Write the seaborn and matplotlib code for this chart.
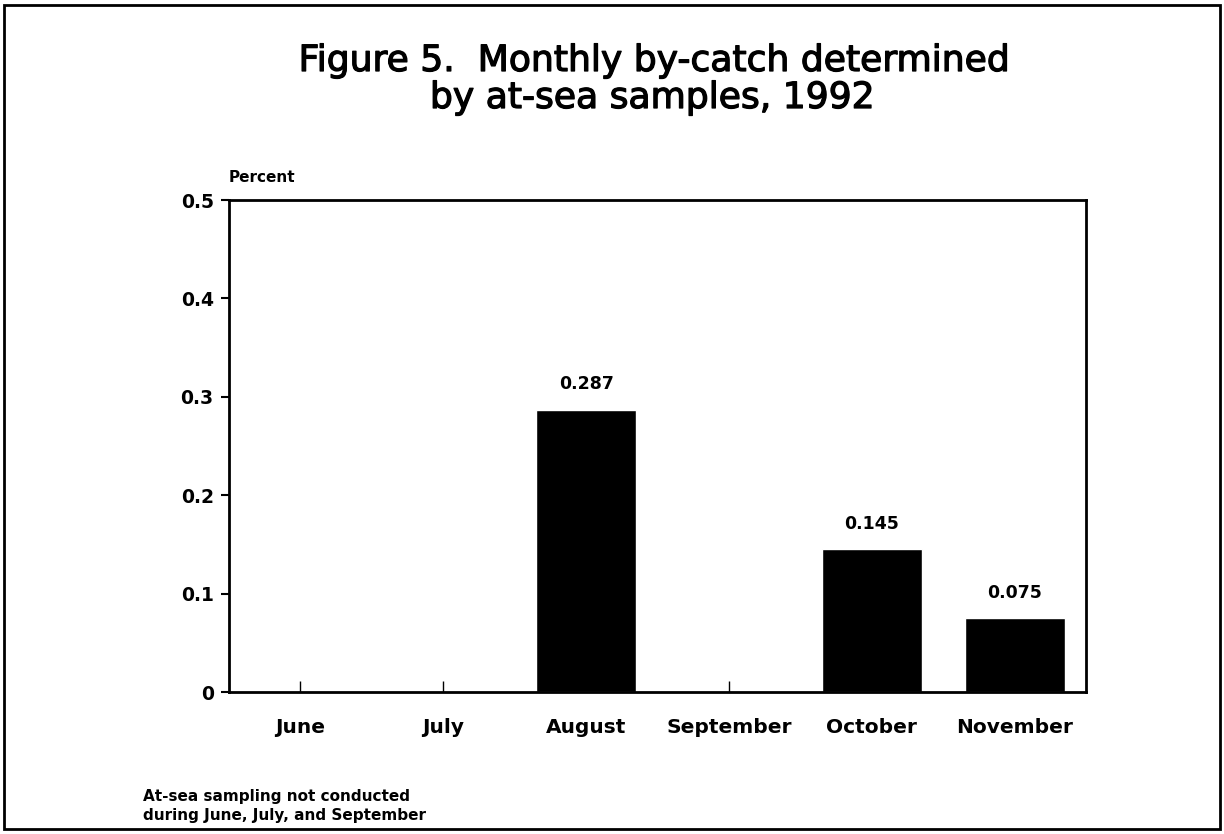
import matplotlib
matplotlib.use('Agg')
import matplotlib.pyplot as plt
import matplotlib.patheffects as pe
import seaborn as sns
import pandas as pd
from matplotlib.patches import Rectangle

sns.set_style("white")
plt.rcParams['font.family'] = ['DejaVu Sans']
plt.rcParams['text.color'] = 'black'
plt.rcParams['xtick.color'] = 'black'
plt.rcParams['ytick.color'] = 'black'

# data
months = ["June", "July", "August", "September", "October", "November"]
sampled_months = ["August", "October", "November"]
bycatch_pct = [0.287, 0.145, 0.075]
title_lines = ["Figure 5.  Monthly by-catch determined", "by at-sea samples, 1992"]

df = pd.DataFrame({"Month": sampled_months, "Percent": bycatch_pct})

fig = plt.figure(figsize=(12.24, 8.34), dpi=100)
ax = fig.add_axes([229 / 1224, 1 - 692 / 834, 857 / 1224, 492 / 834])

sns.barplot(data=df, x="Month", y="Percent", order=months, color="black",
            saturation=1, width=0.7, ax=ax)

for c in ax.containers:
    ax.bar_label(c, labels=[f"{v:.3f}" for v in bycatch_pct], padding=12,
                 fontsize=12.5, fontweight='bold')

ax.set_ylim(0, 0.5)
ax.set_yticks([0, 0.1, 0.2, 0.3, 0.4, 0.5])
ax.set_yticklabels(["0", "0.1", "0.2", "0.3", "0.4", "0.5"])
ax.set_xlabel("")
ax.set_ylabel("")
for s in ax.spines.values():
    s.set_linewidth(2)
    s.set_color("black")
ax.tick_params(axis='y', left=True, direction='out', length=6, width=1.5,
               labelsize=13.5, pad=5)
ax.tick_params(axis='x', bottom=True, direction='in', length=8, width=1,
               labelsize=14.5, pad=19)
for lab in ax.get_xticklabels() + ax.get_yticklabels():
    lab.set_fontweight('bold')

ax.text(0, 1.03, "Percent", transform=ax.transAxes, fontsize=11,
        fontweight='bold', ha='left', va='bottom')

thick = [pe.withStroke(linewidth=0.9, foreground='black')]
fig.text(654 / 1224, 1 - 71 / 834, title_lines[0], ha='center', va='baseline',
         fontsize=26, path_effects=thick)
fig.text(652 / 1224, 1 - 108 / 834, title_lines[1], ha='center', va='baseline',
         fontsize=26, path_effects=thick)

fig.text(143 / 1224, 1 - 806 / 834,
         "At-sea sampling not conducted\nduring June, July, and September",
         ha='left', va='center', fontsize=11, fontweight='bold', linespacing=1.3)

fig.patches.append(Rectangle((4 / 1224, 5 / 834), 1216 / 1224, 824 / 834,
                             transform=fig.transFigure, fill=False,
                             edgecolor='black', linewidth=2))

fig.savefig("out.png", dpi=100)
